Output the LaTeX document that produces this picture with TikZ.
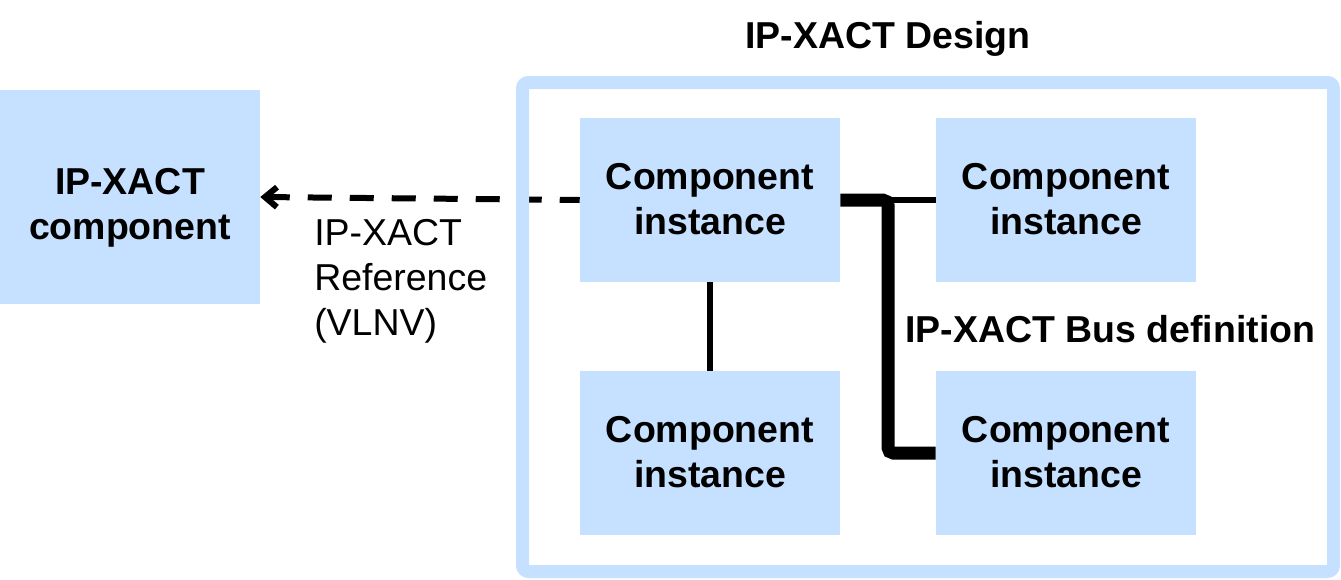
\documentclass[tikz,border=0pt]{standalone}
\usepackage{fontspec}
\setmainfont{Liberation Sans}
\usetikzlibrary{arrows.meta,backgrounds}
\definecolor{boxblue}{RGB}{198,224,255}
\begin{document}
\begin{tikzpicture}[x=0.75pt,y=-0.75pt,
  txt/.style={inner sep=0pt, font=\fontsize{28.1}{33.75}\selectfont},
  btxt/.style={inner sep=0pt, font=\bfseries\fontsize{28.1}{33.75}\selectfont},
  bluebox/.style={fill=boxblue, inner sep=0pt, align=center, font=\bfseries\fontsize{28.1}{33.75}\selectfont},
  inst/.style={bluebox, minimum width=195pt, minimum height=123pt, text depth=1.5pt},
  frame/.style={draw=boxblue, line width=9.75pt, rounded corners=4.5pt, inner sep=0pt, minimum width=608.25pt, minimum height=366.75pt},
  bus/.style={line width=9.75pt, rounded corners=4pt},
  wire/.style={line width=4.5pt},
  refline/.style={line width=4.5pt, dash pattern=on 18pt off 13.5pt, dash phase=3pt, -{Straight Barb[length=9pt,width=15pt]}}
]
\useasboundingbox (0,0) rectangle (1341,579);

\node[frame] (frame) at (928,327) {};
\node[btxt] (title) at (888,39) {IP-XACT Design};

\node[fill=boxblue, inner sep=0pt, minimum width=195pt, minimum height=160.5pt,
      label={[btxt, align=center, yshift=-8pt]center:IP-XACT\\component}] (comp) at (130,197) {};

\node[inst] (i1) at (710,200) {Component\\instance};
\node[inst] (i2) at (1066,200) {Component\\instance};
\node[inst] (i3) at (710,453) {Component\\instance};
\node[inst] (i4) at (1066,453) {Component\\instance};

\node[txt, align=left, anchor=west] (reflbl) at (314,281) {IP-XACT\\Reference\\(VLNV)};
\node[btxt, anchor=base west] (buslbl) at (905,342) {IP-XACT Bus definition};

\begin{pgfonlayer}{background}
\draw[refline] (i1.west) -- (comp.east);
\end{pgfonlayer}

\coordinate (bj) at (888,200);
\draw[wire] (i1.south) -- (i3.north);
\draw[wire] (bj) -- (i2.west);
\draw[bus] (i1.east) -- (bj) -- (bj |- i4.west) -- (i4.west);
\end{tikzpicture}
\end{document}
